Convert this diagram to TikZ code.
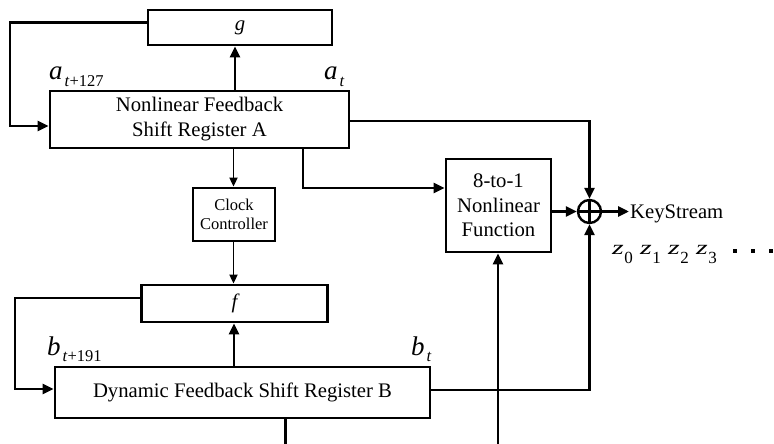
\documentclass[tikz,border=0pt]{standalone}
\usepackage{fontspec}
\setmainfont{Liberation Serif}
\usetikzlibrary{arrows.meta,calc}
\newcommand{\fsz}[2]{\fontsize{#1}{#2}\selectfont}
\begin{document}
\begin{tikzpicture}[x=1pt,y=-1pt,
  box/.style={draw,line width=2.8pt,inner sep=0pt,align=center,font=\fsz{20.7}{25}},
  conn/.style={line width=2.7pt},
  arr/.style={conn,-{Triangle[length=11pt,width=10pt]}},
  thinarr/.style={line width=1.8pt,-{Triangle[length=9pt,width=8pt]}},
  lbl/.style={anchor=base west,inner sep=0pt}]
\useasboundingbox (0,0) rectangle (774,444);

% boxes
\node[box,minimum width=184pt,minimum height=35pt] (g) at (240,27.5) {\itshape g};
\node[box,minimum width=299pt,minimum height=57pt] (A) at (199.5,119.5) {Nonlinear Feedback\\Shift Register A};
\node[box,minimum width=82pt,minimum height=53pt,font=\fsz{16.5}{19}] (C) at (234,214.5) {Clock\\Controller};
\node[box,minimum width=186pt,minimum height=37pt] (f) at (234.5,303.5) {\itshape f};
\node[box,minimum width=375pt,minimum height=51pt] (B) at (242.5,392.5) {Dynamic Feedback Shift Register B};
\node[box,minimum width=105pt,minimum height=93pt,font=\fsz{20.7}{24.5}] (N) at (498.5,205.5) {8-to-1\\Nonlinear\\Function};
\node[circle,draw,line width=2.4pt,minimum size=23pt,inner sep=0pt] (X) at (589.5,211.5) {};
\draw[line width=2.4pt] (X.north) -- (X.south) (X.west) -- (X.east);

% helper coordinates
\coordinate (ga) at (235,0);
\coordinate (fa1) at (10,22.5);
\coordinate (fa2) at (10,126);
\coordinate (ca) at (233.5,0);
\coordinate (an1) at (303,188);
\coordinate (ax) at (589.5,121);
\coordinate (ko) at (629,211.5);
\coordinate (bf) at (234,0);
\coordinate (fb1) at (15,298);
\coordinate (fb2) at (15,389);
\coordinate (bx) at (589.5,390);
\coordinate (bo) at (285.5,444);
\coordinate (ni) at (498,444);

% connectors
\draw[arr] (A.north -| ga) -- (g.south -| ga);
\draw[arr] (g.west |- fa1) -- (fa1) -- (fa2) -- (A.west |- fa2);
\draw[thinarr] (A.south -| ca) -- (C.north -| ca);
\draw[thinarr] (C.south -| ca) -- (f.north -| ca);
\draw[arr] (A.south -| an1) -- (an1) -- (N.west |- an1);
\draw[arr] (A.east |- ax) -- (ax) -- (X.north);
\draw[arr] (N.east |- X) -- (X.west);
\draw[arr] (X.east) -- (ko);
\draw[arr] (B.north -| bf) -- (f.south -| bf);
\draw[arr] (f.west |- fb1) -- (fb1) -- (fb2) -- (B.west |- fb2);
\draw[arr] (B.east |- bx) -- (bx) -- (X.south);
\draw[conn] (B.south -| bo) -- (bo);
\draw[arr] (ni) -- (N.south -| ni);

% labels
\node[lbl,font=\fsz{20.7}{20.7}] (K) at (630,218) {KeyStream};
\node[lbl] (la) at (49,80) {{\fsz{27}{27}\itshape a}\kern2pt\raisebox{-6pt}{\fsz{16.5}{16.5}\textit{t}+127}};
\node[lbl] (lat) at (324,80) {{\fsz{27}{27}\itshape a}\kern2pt\raisebox{-6pt}{\fsz{16.5}{16.5}\textit{t}}};
\node[lbl] (lb) at (47,355) {{\fsz{27}{27}\itshape b}\kern2pt\raisebox{-6pt}{\fsz{16.5}{16.5}\textit{t}+191}};
\node[lbl] (lbt) at (411,355) {{\fsz{27}{27}\itshape b}\kern2pt\raisebox{-6pt}{\fsz{16.5}{16.5}\textit{t}}};
\foreach \i/\x in {0/612,1/640,2/668,3/696}
  \node[lbl] (z\i) at (\x,254) {\scalebox{1.5}[1]{\fsz{20}{20}\itshape z}\kern0.5pt\raisebox{-9pt}{\fsz{17}{17}\i}};
\foreach \i/\x in {1/735,2/753,3/771}
  \node[fill,minimum size=4.5pt,inner sep=0pt] (d\i) at (\x,251) {};
\end{tikzpicture}
\end{document}
